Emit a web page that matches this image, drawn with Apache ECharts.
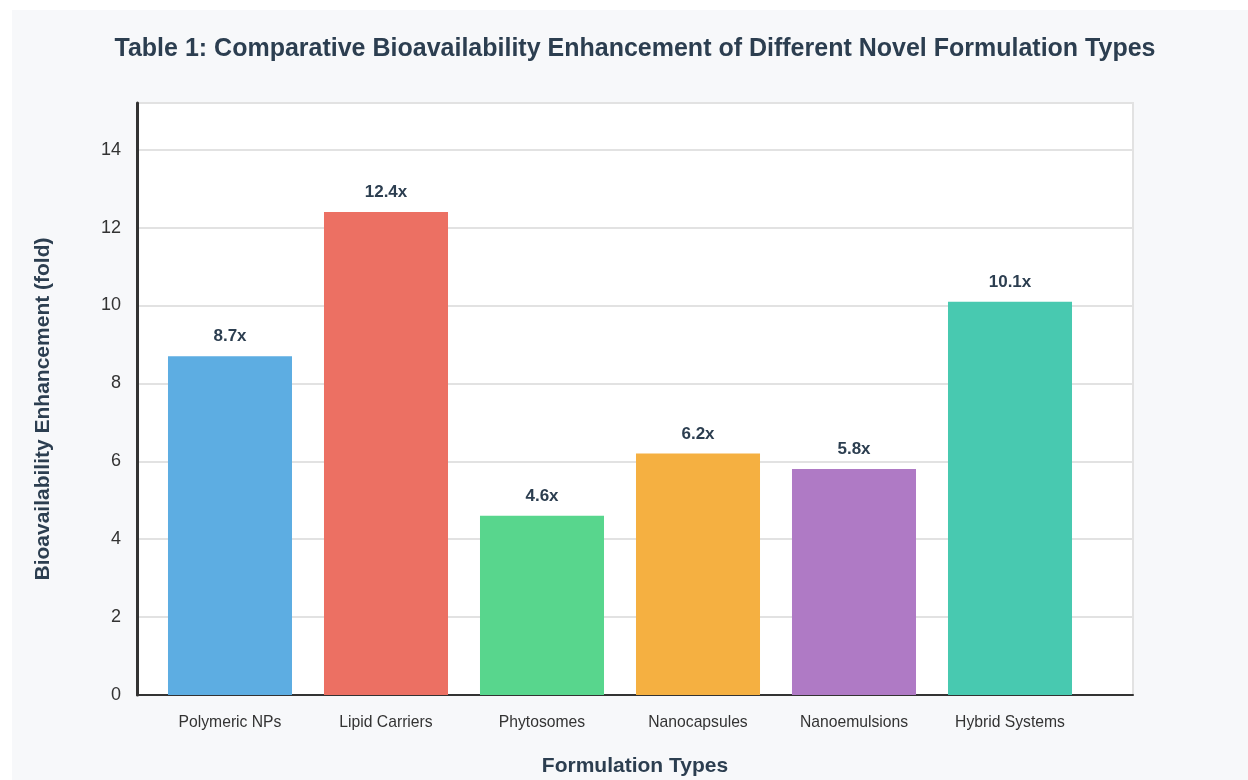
<!DOCTYPE html>
<html>
<head>
<meta charset="utf-8">
<script src="https://cdn.jsdelivr.net/npm/echarts@6/dist/echarts.min.js"></script>
<style>
  html, body { margin: 0; padding: 0; background: #ffffff; }
  #panel { position: absolute; left: 12px; top: 10px; width: 1236px; height: 770px; background: #f7f8fa; }
  #chart { position: absolute; left: 0; top: 0; width: 1248px; height: 780px; }
</style>
</head>
<body>
<div id="panel"></div>
<div id="chart"></div>
<script>
// Formulation types and their fold-increase in bioavailability
const categories = ['Polymeric NPs', 'Lipid Carriers', 'Phytosomes', 'Nanocapsules', 'Nanoemulsions', 'Hybrid Systems'];
const enhancement = [8.7, 12.4, 4.6, 6.2, 5.8, 10.1];
const barColors = ['#5dade2', '#ec7063', '#58d68d', '#f5b041', '#af7ac5', '#48c9b0'];

const FONT = 'Liberation Sans, Arial, sans-serif';
const Y_MAX = 15.2;

const chart = echarts.init(document.getElementById('chart'), null, { renderer: 'canvas' });

chart.setOption({
  backgroundColor: 'transparent',
  textStyle: { fontFamily: FONT },
  graphic: [
    {
      type: 'text',
      style: {
        x: 635,
        y: 49,
        text: 'Table 1: Comparative Bioavailability Enhancement of Different Novel Formulation Types',
        align: 'center',
        verticalAlign: 'middle',
        font: 'bold 25px ' + FONT,
        fill: '#2c3e50'
      }
    },
    {
      type: 'text',
      x: 43,
      y: 409,
      rotation: Math.PI / 2,
      style: {
        x: 0,
        y: 0,
        text: 'Bioavailability Enhancement (fold)',
        align: 'center',
        verticalAlign: 'middle',
        font: 'bold 21px ' + FONT,
        fill: '#2c3e50'
      }
    }
  ],
  grid: [
    // framed plot area with value grid
    {
      left: 137, top: 103, right: 115, bottom: 85,
      outerBoundsMode: 'none',
      containLabel: false,
      show: true,
      backgroundColor: '#ffffff',
      borderColor: '#e2e2e2',
      borderWidth: 2
    },
    // inner band holding the category bars
    { left: 152, top: 103, right: 160, bottom: 85, outerBoundsMode: 'none', containLabel: false }
  ],
  xAxis: [
    {
      gridIndex: 0,
      type: 'value',
      min: 0, max: 1,
      name: 'Formulation Types',
      nameLocation: 'middle',
      nameGap: 61,
      nameTextStyle: { fontSize: 21, fontWeight: 'bold', color: '#2c3e50' },
      axisLine: { show: true, lineStyle: { color: '#333333', width: 2 } },
      axisTick: { show: false },
      axisLabel: { show: false },
      splitLine: { show: false }
    },
    {
      gridIndex: 1,
      type: 'category',
      data: categories,
      axisLine: { show: false },
      axisTick: { show: false },
      axisLabel: { fontSize: 15.7, color: '#333333', margin: 20 }
    }
  ],
  yAxis: [
    {
      gridIndex: 0,
      type: 'value',
      min: 0,
      max: Y_MAX,
      interval: 2,
      axisLine: { show: true, lineStyle: { color: '#333333', width: 3 } },
      axisTick: { show: false },
      axisLabel: { fontSize: 18, color: '#333333', margin: 16, showMaxLabel: false },
      splitLine: { show: true, lineStyle: { color: '#e2e2e2', width: 2 } }
    },
    {
      gridIndex: 1,
      type: 'value',
      min: 0,
      max: Y_MAX,
      show: false
    }
  ],
  series: [{
    type: 'bar',
    xAxisIndex: 1,
    yAxisIndex: 1,
    barWidth: '79.5%',
    data: enhancement.map((v, i) => ({ value: v, itemStyle: { color: barColors[i] } })),
    label: {
      show: true,
      position: 'top',
      distance: 11,
      formatter: p => p.value + 'x',
      fontSize: 17,
      fontWeight: 'bold',
      color: '#2c3e50'
    },
    emphasis: { disabled: true }
  }]
});
</script>
</body>
</html>
